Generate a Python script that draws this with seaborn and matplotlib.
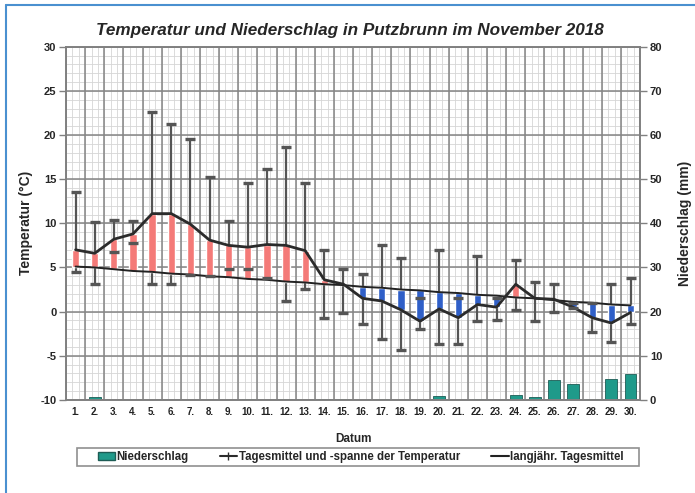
import numpy as np
import pandas as pd
import matplotlib
matplotlib.use("Agg")
import matplotlib.pyplot as plt
import seaborn as sns
from matplotlib.lines import Line2D
from matplotlib.patches import Patch, Rectangle

sns.set_style("white")
plt.rcParams['font.family'] = ['Liberation Sans', 'DejaVu Sans']
plt.rcParams['font.weight'] = 'bold'
plt.rcParams['axes.unicode_minus'] = False

# Daten: Tage im November 2018
tage = list(range(1, 31))
tag_labels = [f"{d}." for d in tage]
t_mittel = [7.0, 6.6, 8.2, 8.8, 11.1, 11.1, 9.9, 8.1, 7.5, 7.3, 7.6, 7.5, 6.9, 3.6, 3.1,
            1.5, 1.2, 0.2, -1.1, 0.3, -0.7, 0.8, 0.5, 3.1, 1.5, 1.4, 0.5, -0.7, -1.3, -0.1]
t_max = [13.5, 10.2, 10.4, 10.3, 22.6, 21.2, 19.5, 15.3, 10.3, 14.6, 16.1, 18.6, 14.6, 7.0, 4.8,
         4.3, 7.6, 6.1, 1.5, 7.0, 1.5, 6.3, 1.5, 5.9, 3.4, 3.1, 1.0, 1.0, 3.1, 3.8]
t_min = [4.5, 3.1, 6.8, 7.8, 3.1, 3.1, 4.2, 4.0, 4.8, 4.8, 3.8, 1.2, 2.6, -0.7, -0.2,
         -1.4, -3.1, -4.4, -2.0, -3.7, -3.7, -1.1, -1.0, 0.2, -1.1, 0.0, 0.4, -2.3, -3.5, -1.4]
t_lang = [5.1, 5.0, 4.8, 4.6, 4.5, 4.3, 4.2, 4.0, 3.9, 3.7, 3.6, 3.4, 3.3, 3.1, 3.0,
          2.8, 2.7, 2.5, 2.4, 2.2, 2.1, 1.9, 1.8, 1.6, 1.5, 1.3, 1.1, 1.0, 0.8, 0.7]
niederschlag = [0.0, 0.7, 0.0, 0.0, 0.0, 0.0, 0.0, 0.0, 0.0, 0.1, 0.0, 0.1, 0.0, 0.1, 0.1,
                0.0, 0.1, 0.0, 0.0, 0.8, 0.0, 0.1, 0.0, 1.0, 0.6, 4.5, 3.6, 0.2, 4.8, 5.8]

df = pd.DataFrame({'Tag': tage, 'Mittel': t_mittel, 'Max': t_max, 'Min': t_min,
                   'Lang': t_lang, 'NS': niederschlag})
df['Diff'] = df['Mittel'] - df['Lang']
df['Farbe'] = np.where(df['Diff'] >= 0, '#f47a78', '#2f5fc8')

fig = plt.figure(figsize=(6.95, 4.93), dpi=100)
ax = fig.add_axes([0.095, 0.189, 0.826, 0.716])
ax2 = ax.twinx()
ax2.set_zorder(0)
ax.set_zorder(1)
ax.patch.set_visible(False)

# Gitter auf der unteren Achse (Millimeterpapier-Stil), 2 mm = 1 °C
for y in np.arange(0, 81, 2):
    ax2.axhline(y, color='#d6d6d6', lw=0.6, zorder=0)
for y in np.arange(0, 81, 10):
    ax2.axhline(y, color='#858585', lw=1.1, zorder=0.5)
for x in np.arange(0.5, 30.5, 1 / 3):
    ax2.axvline(x, color='#d6d6d6', lw=0.6, zorder=0)
for x in np.arange(0.5, 31, 1):
    ax2.axvline(x, color='#858585', lw=1.1, zorder=0.5)

# Niederschlag (rechte Achse)
sns.barplot(data=df, x='Tag', y='NS', native_scale=True, ax=ax2, color='#1f9a8a',
            edgecolor='#1d5c55', linewidth=0.6, width=0.62, saturation=1, zorder=2)

# Temperaturspanne: Linien unter den Balken, Kappen darüber
ax.vlines(df['Tag'], df['Min'], df['Max'], color='#555555', lw=1.6, zorder=1.5)
err = ax.errorbar(df['Tag'], df['Mittel'],
                  yerr=[df['Mittel'] - df['Min'], df['Max'] - df['Mittel']],
                  fmt='none', ecolor='#555555', elinewidth=0, capsize=3.4, capthick=2.4, zorder=5)
for lc in err[2]:
    lc.set_visible(False)

# Abweichung vom langjährigen Mittel
ax.bar(df['Tag'], df['Diff'], bottom=df['Lang'], width=0.38, color=df['Farbe'], zorder=3)

sns.lineplot(data=df, x='Tag', y='Lang', ax=ax, color='#222222', lw=1.4, zorder=4)
sns.lineplot(data=df, x='Tag', y='Mittel', ax=ax, color='#2b2b2b', lw=2.0, zorder=4)

ax.set_xlim(0.5, 30.5)
ax.set_ylim(-10, 30)
ax2.set_ylim(0, 80)
ax.set_yticks(np.arange(-10, 31, 5))
ax2.set_yticks(np.arange(0, 81, 10))
ax.set_xticks(tage)
ax.set_xticklabels(tag_labels)
ax.tick_params(axis='x', length=0, labelsize=7, pad=5, colors='#222222')
ax.tick_params(axis='y', length=5, width=1, color='#808080', labelsize=8, pad=2)
ax2.tick_params(axis='y', length=5, width=1, color='#808080', labelsize=8, pad=2)
for lab in ax.get_yticklabels() + ax2.get_yticklabels() + ax.get_xticklabels():
    lab.set_fontweight('bold')

ax.set_xlabel('Datum', fontsize=8.5, fontweight='bold', labelpad=12)
ax.set_ylabel('Temperatur (°C)', fontsize=10, fontweight='bold', labelpad=5)
ax2.set_ylabel('Niederschlag (mm)', fontsize=10, fontweight='bold', labelpad=11)
for a in (ax, ax2):
    for s in a.spines.values():
        s.set_color('#808080')
        s.set_linewidth(1.2)

fig.text(0.504, 0.939, 'Temperatur und Niederschlag in Putzbrunn im November 2018',
         ha='center', va='center', fontsize=12.3, fontweight='bold', style='italic')

# Legende mit eigenem Rahmen
fig.add_artist(Rectangle((77 / 695, 1 - 466 / 493), 562 / 695, 18 / 493, transform=fig.transFigure,
                         facecolor='white', edgecolor='#909090', lw=1.2))
handles = [Patch(facecolor='#1f9a8a', edgecolor='#1d5c55'),
           Line2D([0], [0], color='#2b2b2b', lw=1.5, marker='|', markersize=6),
           Line2D([0], [0], color='#222222', lw=1.5)]
labels = ['Niederschlag', 'Tagesmittel und -spanne der Temperatur', 'langjähr. Tagesmittel']
leg = fig.legend(handles, labels, loc='center', ncol=3, bbox_to_anchor=(0.519, 0.073),
                 frameon=False, prop={'size': 8.3, 'weight': 'bold'}, handlelength=1.5,
                 handleheight=0.6, handletextpad=0.15, columnspacing=2.7, borderpad=0.1)

# blauer Rahmen
fig.add_artist(Line2D([0.008, 0.008], [0.0, 0.99], color='#4a90d0', lw=1.5))
fig.add_artist(Line2D([0.008, 1.0], [0.99, 0.99], color='#4a90d0', lw=1.5))

fig.savefig('out.png', dpi=100)
